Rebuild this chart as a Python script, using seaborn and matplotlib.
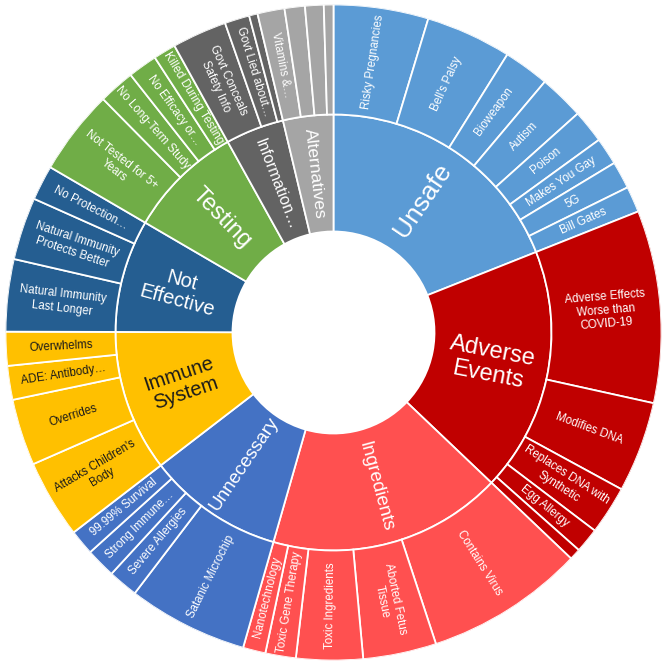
import numpy as np
import pandas as pd
import matplotlib
matplotlib.use("Agg")
import matplotlib.pyplot as plt
import seaborn as sns

# inner ring categories (clockwise from 12 o'clock)
categories = ["Unsafe", "Adverse Events", "Ingredients", "Unnecessary", "Immune System",
              "Not Effective", "Testing", "Information", "Alternatives"]
category_labels = ["Unsafe", "Adverse\nEvents", "Ingredients", "Unnecessary", "Immune\nSystem",
                   "Not\nEffective", "Testing", "Information…", "Alternatives"]

# outer ring: parent, label, value
leaf_parents = (["Unsafe"] * 8 + ["Adverse Events"] * 5 + ["Ingredients"] * 5
                + ["Unnecessary"] * 4 + ["Immune System"] * 4 + ["Not Effective"] * 3
                + ["Testing"] * 4 + ["Information"] * 3 + ["Alternatives"] * 4)
leaf_labels = [
    "Risky Pregnancies", "Bell's Palsy", "Bioweapon", "Autism", "Poison", "Makes You Gay", "5G", "Bill Gates",
    "Adverse Effects\nWorse than\nCOVID-19", "Modifies DNA", "Replaces DNA with\nSynthetic", "Egg Allergy", "",
    "Contains Virus", "Aborted Fetus\nTissue", "Toxic Ingredients", "Toxic Gene Therapy", "Nanotechnology",
    "Satanic Microchip", "Severe Allergies", "Strong Immune…", "99.99% Survival",
    "Attacks Children's\nBody", "Overrides", "ADE: Antibody…", "Overwhelms",
    "Natural Immunity\nLast Longer", "Natural Immunity\nProtects Better", "No Protection…",
    "Not Tested for 5+\nYears", "No Long-Term Study", "No Efficacy or…", "Killed During Testing",
    "Govt Conceals\nSafety Info", "Govt Lied about…", "",
    "Vitamins &…", "", "", "",
]
leaf_values = [
    16.8, 15.2, 8.1, 8.0, 5.9, 4.85, 4.85, 4.6,
    34.1, 16.1, 8.6, 4.4, 2.0,
    28.2, 13.0, 11.8, 5.4, 4.0,
    21.3, 5.3, 5.3, 4.5,
    13.9, 11.8, 6.0, 6.0,
    12.8, 11.1, 6.2,
    15.1, 6.4, 5.2, 4.0,
    9.7, 4.4, 1.5,
    4.8, 3.6, 3.3, 1.7,
]

colors = {
    "Unsafe": "#5B9BD5", "Adverse Events": "#C00000", "Ingredients": "#FF5050",
    "Unnecessary": "#4472C4", "Immune System": "#FFC000", "Not Effective": "#255E91",
    "Testing": "#70AD47", "Information": "#636363", "Alternatives": "#A5A5A5",
}
inner_font = {
    "Unsafe": 19, "Adverse Events": 17, "Ingredients": 13.5, "Unnecessary": 13.5,
    "Immune System": 14.5, "Not Effective": 14.5, "Testing": 17, "Information": 11.5,
    "Alternatives": 12.5,
}

R_HOLE, R_MID, R_OUT = 101, 218, 328


def radial_rotation(theta_deg):
    # theta_deg measured clockwise from top; keep the text upright
    rot = 90 - theta_deg
    rot = (rot + 180) % 360 - 180
    if rot < -90:
        rot += 180
    elif rot > 90:
        rot -= 180
    return rot


sns.set_theme(style="white")
plt.rcParams["font.family"] = ["Liberation Sans", "DejaVu Sans"]

leaves = pd.DataFrame({"parent": leaf_parents, "label": leaf_labels, "value": leaf_values})
scale = 2 * np.pi / leaves["value"].sum()
leaves["width"] = leaves["value"] * scale
leaves["start"] = leaves["width"].cumsum() - leaves["width"]

groups = leaves.groupby("parent", sort=False).agg(start=("start", "min"), width=("width", "sum"))
groups = groups.loc[categories]

fig = plt.figure(figsize=(6.65, 6.65), dpi=100)
ax = fig.add_axes([5.5 / 665, 4.5 / 665, 656 / 665, 656 / 665], projection="polar")
ax.set_theta_zero_location("N")
ax.set_theta_direction(-1)
ax.set_ylim(0, R_OUT)

# inner ring
for cat, lab in zip(categories, category_labels):
    row = groups.loc[cat]
    mid = row["start"] + row["width"] / 2
    ax.bar(mid, R_MID - R_HOLE, width=row["width"], bottom=R_HOLE, color=colors[cat],
           edgecolor="white", linewidth=1.3, align="center")
    txt_color = "#1a1a1a" if cat == "Immune System" else "white"
    ax.text(mid, (R_HOLE + R_MID) / 2, lab, rotation=radial_rotation(np.degrees(mid)),
            rotation_mode="anchor", ha="center", va="center", multialignment="center",
            fontsize=inner_font[cat], color=txt_color, linespacing=1.12)

# outer ring
for _, row in leaves.iterrows():
    mid = row["start"] + row["width"] / 2
    ax.bar(mid, R_OUT - R_MID, width=row["width"], bottom=R_MID, color=colors[row["parent"]],
           edgecolor="white", linewidth=1.3, align="center")
    if row["label"]:
        txt_color = "#1a1a1a" if row["parent"] == "Immune System" else "white"
        ax.text(mid, (R_MID + R_OUT) / 2, row["label"], rotation=radial_rotation(np.degrees(mid)),
                rotation_mode="anchor", ha="center", va="center", multialignment="center",
                fontsize=8.3, color=txt_color, linespacing=1.2)

ax.set_axis_off()
fig.savefig("out.png", dpi=100, facecolor="white")
plt.close(fig)
